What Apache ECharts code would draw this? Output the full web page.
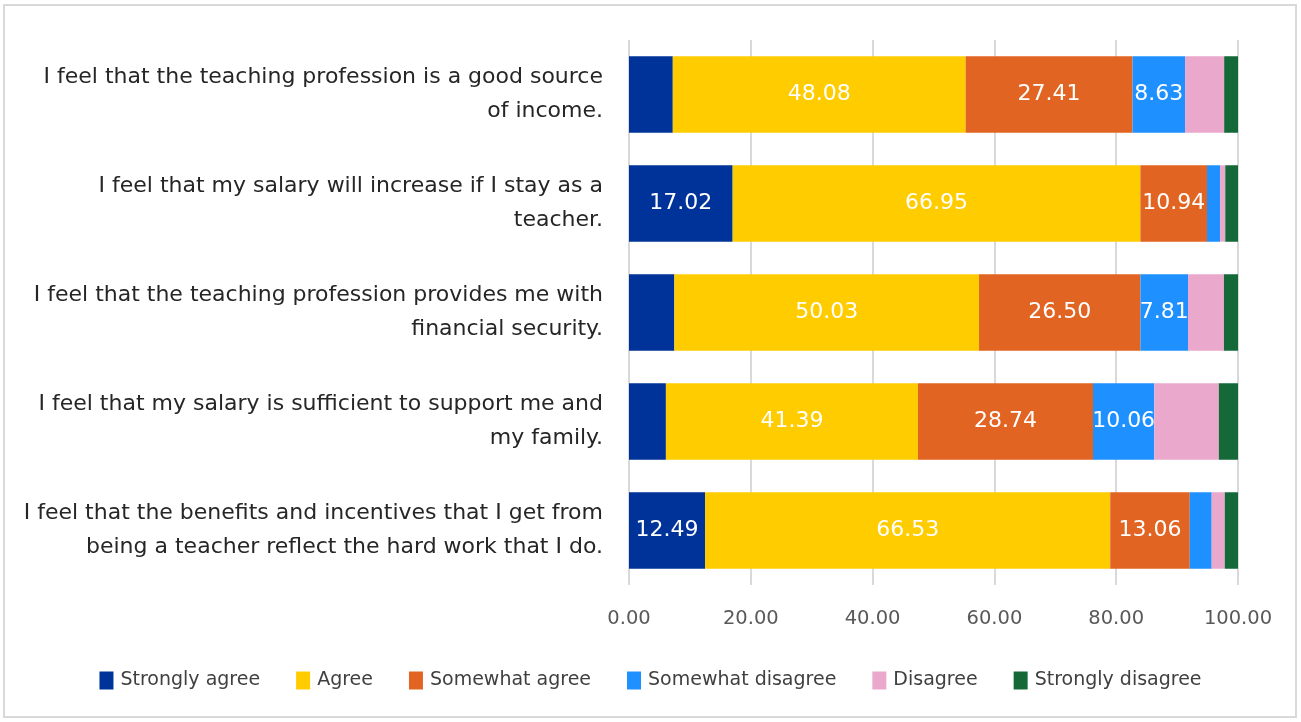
<!DOCTYPE html>
<html>
<head>
<meta charset="utf-8">
<script src="https://cdn.jsdelivr.net/npm/echarts@6/dist/echarts.min.js"></script>
<style>
  html, body { margin: 0; padding: 0; background: #ffffff; }
  #chart { width: 1301px; height: 722px; }
</style>
</head>
<body>
<div id="chart"></div>
<script>
// Survey statements (top to bottom)
const categories = [
  'I feel that the teaching profession is a good source\nof income.',
  'I feel that my salary will increase if I stay as a\nteacher.',
  'I feel that the teaching profession provides me with\nfinancial security.',
  'I feel that my salary is sufficient to support me and\nmy family.',
  'I feel that the benefits and incentives that I get from\nbeing a teacher reflect the hard work that I do.'
];

// Response shares (%) per statement
const stronglyAgree    = [7.19, 17.02, 7.45, 6.06, 12.49];
const agree            = [48.08, 66.95, 50.03, 41.39, 66.53];
const somewhatAgree    = [27.41, 10.94, 26.50, 28.74, 13.06];
const somewhatDisagree = [8.63, 2.15, 7.81, 10.06, 3.60];
const disagree         = [6.42, 0.85, 5.90, 10.60, 2.15];
const stronglyDisagree = [2.27, 2.09, 2.31, 3.15, 2.17];

const xTicks = [0, 20, 40, 60, 80, 100];

const seriesDefs = [
  { name: 'Strongly agree',    data: stronglyAgree,    color: '#003399', minLabel: 10 },
  { name: 'Agree',             data: agree,            color: '#FFCC00', minLabel: 0 },
  { name: 'Somewhat agree',    data: somewhatAgree,    color: '#E26422', minLabel: 0 },
  { name: 'Somewhat disagree', data: somewhatDisagree, color: '#1E90FF', minLabel: 7.5 },
  { name: 'Disagree',          data: disagree,         color: '#EAA9CC', minLabel: Infinity },
  { name: 'Strongly disagree', data: stronglyDisagree, color: '#156838', minLabel: Infinity }
];

const FONT = '"DejaVu Sans", "Noto Sans", sans-serif';

const chart = echarts.init(document.getElementById('chart'));
chart.setOption({
  backgroundColor: '#ffffff',
  textStyle: { fontFamily: FONT },
  graphic: [{
    type: 'rect',
    shape: { x: 4, y: 5, width: 1292, height: 712 },
    style: { fill: 'none', stroke: '#d9d9d9', lineWidth: 2 },
    silent: true
  }],
  grid: { left: 629, right: 63, top: 40, bottom: 137, containLabel: false },
  legend: {
    bottom: 27,
    left: 'center',
    itemWidth: 14,
    itemHeight: 18,
    itemGap: 36,
    icon: 'rect',
    textStyle: { fontSize: 19, color: '#404040', fontFamily: FONT, padding: [0, 0, 0, 2] },
    data: seriesDefs.map(s => s.name)
  },
  xAxis: {
    type: 'value',
    min: xTicks[0],
    max: xTicks[xTicks.length - 1],
    interval: 20,
    axisLine: { show: false },
    axisTick: { show: false },
    splitLine: { lineStyle: { color: '#d9d9d9', width: 2 } },
    axisLabel: {
      margin: 24,
      fontSize: 19.5,
      color: '#595959',
      formatter: v => v.toFixed(2)
    }
  },
  yAxis: {
    type: 'category',
    inverse: true,
    data: categories,
    axisLine: { show: false },
    axisTick: { show: false },
    axisLabel: {
      margin: 26,
      fontSize: 22,
      lineHeight: 34,
      color: '#262626',
      align: 'right'
    }
  },
  series: seriesDefs.map(s => ({
    name: s.name,
    type: 'bar',
    stack: 'total',
    barCategoryGap: '30%',
    data: s.data,
    itemStyle: { color: s.color },
    label: {
      show: true,
      position: 'inside',
      color: '#ffffff',
      fontSize: 22,
      fontFamily: FONT,
      formatter: p => (p.value >= s.minLabel ? p.value.toFixed(2) : '')
    }
  }))
});
</script>
</body>
</html>
